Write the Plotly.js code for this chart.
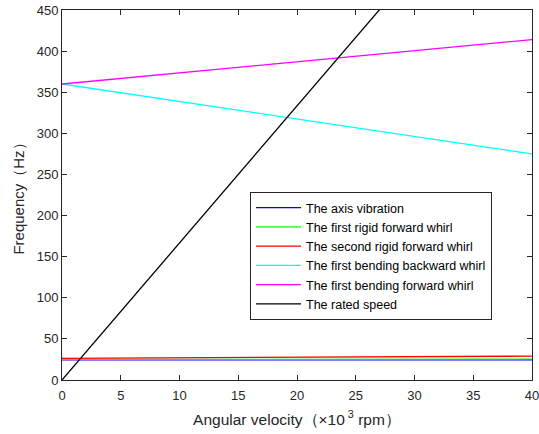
<!DOCTYPE html>
<html>
<head>
<meta charset="utf-8">
<script src="https://cdn.plot.ly/plotly-3.0.1.min.js"></script>
<style>
  html, body { margin: 0; padding: 0; background: #fff; }
  #chart { width: 539px; height: 434px; }
</style>
</head>
<body>
<div id="chart"></div>
<script>
// Angular velocity (x10^3 rpm) at which each mode frequency is sampled
const speed = [0, 40];

// Mode frequencies (Hz)
const axisVibration   = [24.4, 24.6];
const rigidForward1   = [25.0, 25.3];
const rigidForward2   = [26.3, 29.0];
const bendBackward1   = [360, 275];
const bendForward1    = [360, 414];
const ratedSpeed      = [0, 666.7];

const seriesNames = [
  'The axis vibration',
  'The first rigid forward whirl',
  'The second rigid forward whirl',
  'The first bending backward whirl',
  'The first bending forward whirl',
  'The rated speed'
];
const seriesValues = [axisVibration, rigidForward1, rigidForward2, bendBackward1, bendForward1, ratedSpeed];
const seriesColors = ['#0000ff', '#00ff00', '#ff0000', '#00ffff', '#ff00ff', '#000000'];

const traces = seriesValues.map((vals, i) => ({
  x: speed,
  y: vals,
  name: seriesNames[i],
  type: 'scatter',
  mode: 'lines',
  line: { color: seriesColors[i], width: 1.3 }
}));

const FONT = 'Liberation Sans, Arial, sans-serif';

const axisCommon = {
  showgrid: false,
  zeroline: false,
  showline: true,
  mirror: 'ticks',
  linecolor: '#262626',
  linewidth: 1,
  ticks: 'inside',
  ticklen: 5,
  tickwidth: 1,
  tickcolor: '#262626',
  ticklabeloverflow: 'allow',
  tickfont: { family: FONT, size: 13, color: '#262626' }
};

const layout = {
  width: 539,
  height: 434,
  margin: { l: 62, r: 7, t: 10, b: 54 },
  paper_bgcolor: '#ffffff',
  plot_bgcolor: '#ffffff',
  showlegend: true,
  legend: {
    x: 0.4, y: 0.508, xanchor: 'left', yanchor: 'top',
    bgcolor: '#ffffff',
    bordercolor: '#262626',
    borderwidth: 1,
    itemwidth: 45,
    font: { family: FONT, size: 12.5, color: '#000000' },
    tracegroupgap: 0
  },
  xaxis: Object.assign({}, axisCommon, {
    range: [0, 40],
    tickvals: [0, 5, 10, 15, 20, 25, 30, 35, 40],
    ticklabelstandoff: 3,
    title: {
      text: 'Angular velocity（×10<sup> 3</sup> rpm）',
      font: { family: FONT, size: 15.5, color: '#262626' },
      standoff: 12
    }
  }),
  yaxis: Object.assign({}, axisCommon, {
    range: [0, 450],
    tickvals: [0, 50, 100, 150, 200, 250, 300, 350, 400, 450],
    title: {
      text: 'Frequency（Hz）',
      font: { family: FONT, size: 15, color: '#262626' },
      standoff: 8
    }
  })
};

Plotly.newPlot('chart', traces, layout, { displayModeBar: false, staticPlot: true });
</script>
</body>
</html>
